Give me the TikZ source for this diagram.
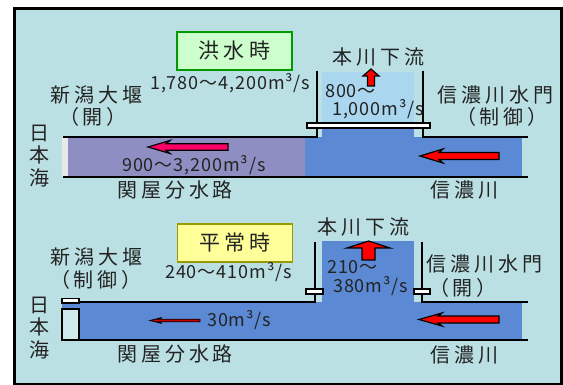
\documentclass[tikz,border=0pt]{standalone}
\usepackage{fontspec}
\newfontfamily\jp[LetterSpace=20,RawFeature=+palt]{Noto Sans CJK JP}
\newfontfamily\num[LetterSpace=5]{Noto Sans CJK JP}
\definecolor{bgc}{RGB}{187,224,228}
\definecolor{purp}{RGB}{142,142,194}
\definecolor{riv}{RGB}{91,137,212}
\definecolor{lriv}{RGB}{170,214,240}
\definecolor{strip}{RGB}{232,232,232}
\definecolor{gfill}{RGB}{204,255,204}
\definecolor{gline}{RGB}{0,153,0}
\definecolor{yfill}{RGB}{255,255,153}
\definecolor{yline}{RGB}{153,153,0}
\definecolor{mag}{RGB}{255,0,102}
\definecolor{arred}{RGB}{255,0,0}
\definecolor{dred}{RGB}{200,0,0}
\definecolor{txt}{RGB}{35,35,35}
\newcommand\leftarr[7]{% style, tip x, tail x, y, shaft half, head half, head len
  \draw[#1] (#2,#4) -- ({#2+#7},{#4-#6}) -- ({#2+#7-4},{#4-#5}) -- (#3,{#4-#5}) -- (#3,{#4+#5}) -- ({#2+#7-4},{#4+#5}) -- ({#2+#7},{#4+#6}) -- cycle;}
\newcommand\uparr[7]{% style, x, tip y, tail y, shaft half, head half, head len
  \draw[#1] (#2,#3) -- ({#2+#6},{#3+#7}) -- ({#2+#5},{#3+#7}) -- ({#2+#5},#4) -- ({#2-#5},#4) -- ({#2-#5},{#3+#7}) -- ({#2-#6},{#3+#7}) -- cycle;}
\tikzset{
  lbl/.style={font=\jp\fontsize{20}{22.5}\selectfont, text=txt, inner sep=0pt},
  numl/.style={font=\num\fontsize{18}{21}\selectfont, text=txt, inner sep=0pt},
  wall/.style={line width=2pt},
  gate/.style={draw=black, line width=1.2pt, fill=white},
  arrow outline/.style={draw=black, line width=1.2pt, line join=miter},
  titlebox/.style={line width=1.5pt, minimum width=115pt, minimum height=38pt, inner sep=0pt, font=\jp\fontsize{21}{23}\selectfont, text=txt}
}
\begin{document}
\begin{tikzpicture}[x=1pt,y=-1pt]
\useasboundingbox (0,0) rectangle (563,385);
\fill[white] (0,0) rectangle (563,385);
\draw[line width=3pt, fill=bgc] (14.5,8.5) rectangle (561.5,384);

% ================= TOP: flood =================
\fill[strip] (62,137) rectangle (68,177);
\fill[purp] (68,137) rectangle (305,177);
\fill[riv] (305,137) rectangle (522,177);
\fill[lriv] (322,72) rectangle (414,123);
\fill[riv] (322,126) rectangle (414,138);
\draw[wall] (316.5,71) -- (316.5,137) -- (63,137);
\draw[wall] (422.5,71) -- (422.5,137) -- (528,137);
\draw[wall] (63,177) -- (528,177);
\draw[gate] (307,123) rectangle (430,128);

\uparr{arrow outline, fill=arred}{371}{69}{86}{3.5}{8}{7}
\leftarr{arrow outline, fill=mag}{148}{228}{147}{3.2}{6.5}{22}
\leftarr{arrow outline, fill=arred}{420}{499}{156}{3.5}{7}{23}

\node[titlebox, draw=gline, fill=gfill] (flood) at (234.5,51) {洪水時};
\node[numl, anchor=west] (fq) at (150,83) {1,780～4,200m³/s};
\node[lbl] (weir1) at (96,95) {新潟大堰};
\node[lbl] (weir1s) at (93,117) {（開）};
\node[lbl, align=center] (sea1) at (39,156) {日\\本\\海};
\node[numl, anchor=west] (fq1) at (122,165) {900～3,200m³/s};
\node[lbl] (sek1) at (175,190) {関屋分水路};
\node[lbl] (down1) at (378,57) {本川下流};
\node[numl, anchor=west] (mq1a) at (325,91) {800～};
\node[numl, anchor=west] (mq1b) at (332,109) {1,000m³/s};
\node[lbl, anchor=west] (gate1) at (437,95) {信濃川水門};
\node[lbl] (gate1s) at (502,117) {（制御）};
\node[lbl] (shin1) at (464,190) {信濃川};

% ================= BOTTOM: normal =================
\fill[riv] (62,302) rectangle (522,339);
\fill[riv] (322,241) rectangle (414,303);
\draw[wall] (314.5,242) -- (314.5,301.5) -- (79,301.5);
\draw[wall] (421.5,242) -- (421.5,301.5) -- (528,301.5);
\draw[wall] (62,339.5) -- (528,339.5);
\draw[gate] (62,298.5) rectangle (79,303);
\draw[line width=1.5pt, fill=bgc!70!white] (62,309) rectangle (79,340);
\draw[gate] (306,289) rectangle (323,294);
\draw[gate] (414,289) rectangle (430,294);

\uparr{arrow outline, fill=arred}{368.5}{241}{260}{6.5}{21.5}{7}
\leftarr{arrow outline, fill=arred}{419}{499}{319.5}{3.5}{6.5}{23}
\leftarr{draw=black, line width=0.8pt, fill=dred}{150}{200}{320.5}{1.3}{3}{12}

\node[titlebox, draw=yline, fill=yfill] (normal) at (235,243) {平常時};
\node[numl, anchor=west] (nq) at (165,272) {240～410m³/s};
\node[lbl] (weir2) at (96,257) {新潟大堰};
\node[lbl] (weir2s) at (96,280) {（制御）};
\node[lbl, align=center] (sea2) at (39,328) {日\\本\\海};
\node[numl, anchor=west] (nq1) at (207,320) {30m³/s};
\node[lbl] (sek2) at (175,354) {関屋分水路};
\node[lbl] (down2) at (363,227) {本川下流};
\node[numl, anchor=west] (mq2a) at (327,267) {210～};
\node[numl, anchor=west] (mq2b) at (333,286) {380m³/s};
\node[lbl, anchor=west] (gate2) at (426,264) {信濃川水門};
\node[lbl] (gate2s) at (463,288) {（開）};
\node[lbl] (shin2) at (464,355) {信濃川};
\end{tikzpicture}
\end{document}
